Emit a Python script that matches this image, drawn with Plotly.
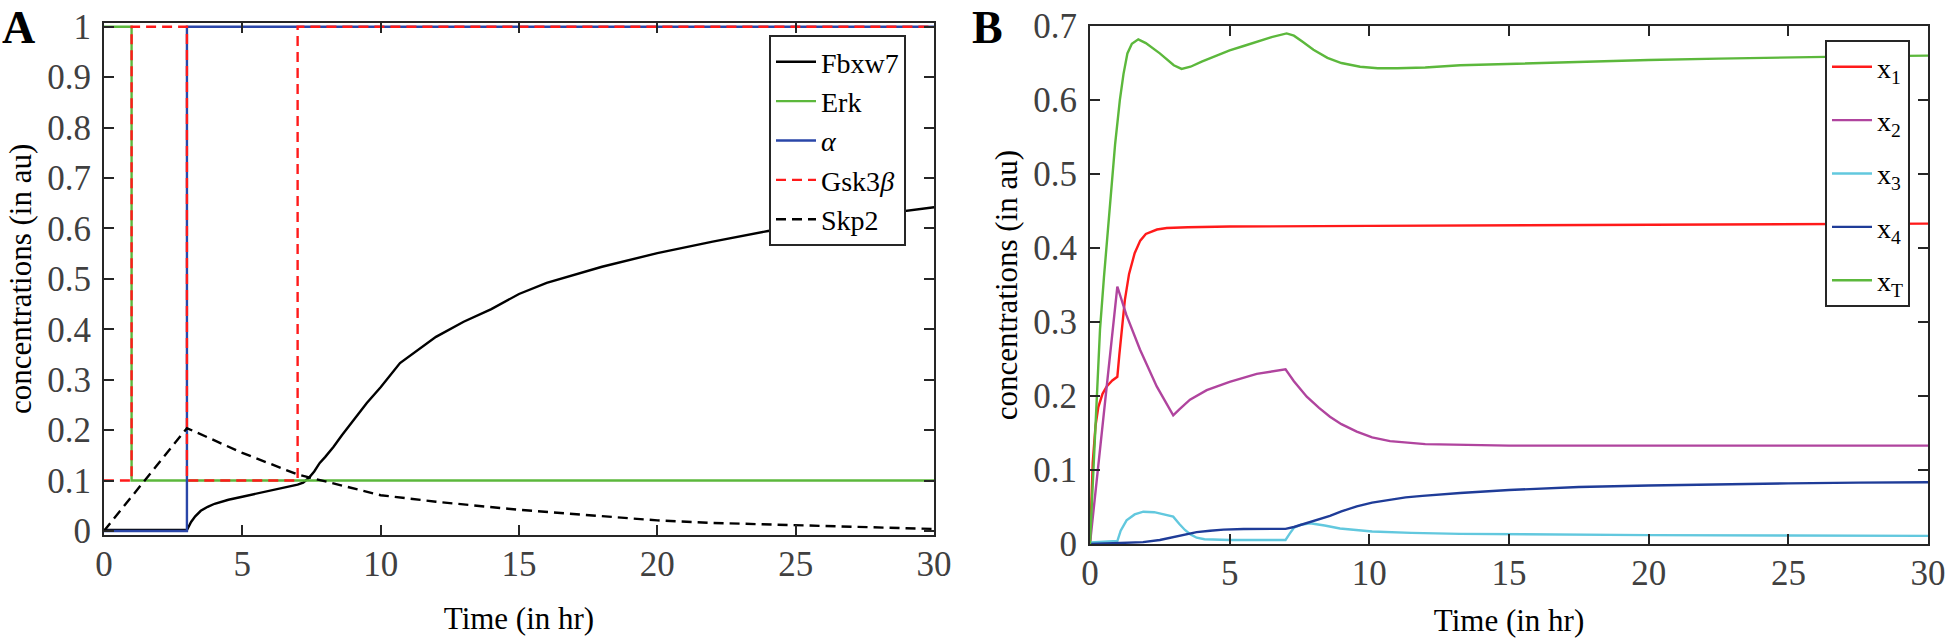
import plotly.graph_objects as go

# ---- panel A data ----
fbxw7_t = [0, 3, 3.15, 3.3, 3.5, 3.75, 4, 4.5, 5, 5.5, 6, 6.5, 7, 7.2, 7.4, 7.6, 7.8, 8.0,
           8.3, 8.6, 8.9, 9.5, 10, 10.7, 12, 13, 14, 15, 16, 18, 20, 22, 24, 26, 28, 30]
fbxw7_y = [0.002, 0.002, 0.018, 0.029, 0.04, 0.048, 0.054, 0.062, 0.068, 0.074, 0.079, 0.085,
           0.092, 0.096, 0.105, 0.118, 0.135, 0.147, 0.167, 0.19, 0.212, 0.254, 0.285, 0.333,
           0.385, 0.415, 0.44, 0.47, 0.492, 0.524, 0.551, 0.574, 0.595, 0.612, 0.628, 0.642]

erk_t = [0, 1, 1, 30]
erk_y = [1, 1, 0.1, 0.1]

alpha_t = [0, 3, 3, 30]
alpha_y = [0, 0, 1, 1]

gsk_t = [0, 1, 1, 3, 3, 7, 7, 30]
gsk_y = [0.1, 0.1, 1, 1, 0.1, 0.1, 1, 1]

skp2_t = [0, 3, 5, 7, 10, 12, 15, 18, 20, 22, 25, 28, 30]
skp2_y = [0, 0.204, 0.155, 0.112, 0.071, 0.058, 0.042, 0.029, 0.021, 0.016, 0.011, 0.006, 0.004]

# ---- panel B data ----
x1_t = [0, 0.05, 0.1, 0.2, 0.3, 0.45, 0.6, 0.8, 0.98, 1.05, 1.12, 1.25, 1.4, 1.6, 1.8, 2.0,
        2.4, 2.75, 3.5, 5, 10, 15, 20, 25, 30]
x1_y = [0, 0.06, 0.11, 0.16, 0.185, 0.203, 0.213, 0.221, 0.226, 0.255, 0.285, 0.33, 0.365,
        0.393, 0.41, 0.419, 0.425, 0.427, 0.428, 0.429, 0.43, 0.431, 0.432, 0.433, 0.433]

x2_t = [0, 0.98, 1.3, 1.79, 2.39, 2.98, 3.2, 3.58, 4.18, 5, 5.97, 7.0, 7.3, 7.76, 8.2, 8.59,
        9.0, 9.55, 10.1, 10.74, 12, 13.25, 15, 20, 25, 30]
x2_y = [0, 0.348, 0.31, 0.263, 0.213, 0.174, 0.182, 0.195, 0.208, 0.219, 0.23, 0.236, 0.22,
        0.199, 0.184, 0.172, 0.162, 0.152, 0.144, 0.139, 0.135, 0.134, 0.133, 0.133, 0.133, 0.133]

x3_t = [0, 0.98, 1.1, 1.31, 1.6, 1.91, 2.3, 2.7, 2.98, 3.2, 3.4, 3.6, 3.82, 4.1, 4.4, 5, 6,
        7.0, 7.15, 7.3, 7.55, 7.88, 8.4, 8.95, 10.1, 11.5, 13.25, 15, 20, 25, 30]
x3_y = [0.002, 0.004, 0.018, 0.032, 0.04, 0.0437, 0.043, 0.04, 0.037, 0.027, 0.019, 0.013,
        0.0085, 0.0065, 0.006, 0.0055, 0.0055, 0.0055, 0.014, 0.022, 0.026, 0.028, 0.025,
        0.021, 0.017, 0.015, 0.0137, 0.013, 0.012, 0.0115, 0.011]

x4_t = [0, 0.8, 1.4, 1.9, 2.5, 2.98, 3.4, 3.82, 4.3, 4.78, 5.5, 6.2, 7.0, 7.3, 7.76, 8.2,
        8.59, 9.0, 9.55, 10.1, 10.74, 11.3, 11.9, 12.5, 13.25, 15, 17.5, 20, 22.5, 25, 27.5, 30]
x4_y = [0, 0.001, 0.0015, 0.0025, 0.0055, 0.0095, 0.013, 0.016, 0.018, 0.0195, 0.0203, 0.0205,
        0.0205, 0.023, 0.028, 0.033, 0.038, 0.044, 0.051, 0.056, 0.06, 0.063, 0.065, 0.067,
        0.069, 0.073, 0.077, 0.079, 0.081, 0.082, 0.083, 0.0835]

xT_t = [0, 0.1, 0.2, 0.36, 0.5, 0.72, 0.9, 1.07, 1.2, 1.34, 1.5, 1.73, 2.0, 2.5, 3.0, 3.28,
        3.6, 4.0, 4.5, 5.0, 5.5, 6.0, 6.5, 7.04, 7.3, 7.6, 8.0, 8.5, 9.0, 9.67, 10.3, 11.0, 12,
        13.25, 15, 17.5, 20, 22.5, 25, 27.5, 30]
xT_y = [0, 0.08, 0.16, 0.29, 0.36, 0.465, 0.54, 0.6, 0.635, 0.663, 0.676, 0.682, 0.677, 0.663,
        0.647, 0.642, 0.645, 0.652, 0.66, 0.667, 0.673, 0.679, 0.685, 0.69, 0.687, 0.679, 0.668,
        0.657, 0.65, 0.645, 0.643, 0.643, 0.644, 0.647, 0.649, 0.652, 0.654, 0.656, 0.658,
        0.659, 0.66]

x_ticks = [0, 5, 10, 15, 20, 25, 30]

FONT = "Liberation Serif"
AXCOL = "#262626"
GREEN = "#5cb83c"
RED = "#ff1a1a"
DASH = "10px,6px"

fig = go.Figure()

def add(x, y, name, color, dash="solid", ax="A"):
    fig.add_trace(go.Scatter(
        x=x, y=y, name=name, mode="lines",
        line=dict(color=color, width=2.4, dash=dash),
        xaxis="x" if ax == "A" else "x2",
        yaxis="y" if ax == "A" else "y2",
        legend="legend" if ax == "A" else "legend2",
        legendgroup=name,
    ))

add(fbxw7_t, fbxw7_y, "Fbxw7", "black")
add(erk_t, erk_y, "Erk", GREEN)
add(alpha_t, alpha_y, "<i>α</i>", "#2a46a8")
add(gsk_t, gsk_y, "Gsk3<i>β</i>", RED, dash=DASH)
add(skp2_t, skp2_y, "Skp2", "black", dash=DASH)

add(x1_t, x1_y, "x<sub>1</sub>", RED, ax="B")
add(x2_t, x2_y, "x<sub>2</sub>", "#b0449e", ax="B")
add(x3_t, x3_y, "x<sub>3</sub>", "#62c8de", ax="B")
add(x4_t, x4_y, "x<sub>4</sub>", "#1f3c98", ax="B")
add(xT_t, xT_y, "x<sub>T</sub>", GREEN, ax="B")

axis_common = dict(
    showline=True, linecolor=AXCOL, linewidth=2, mirror="ticks",
    ticks="inside", ticklen=10, tickwidth=2, tickcolor=AXCOL,
    showgrid=False, zeroline=False, automargin=False,
    tickfont=dict(family=FONT, size=35, color="#404040"),
)
title_font = dict(family=FONT, size=31, color="black")
xt = dict(text="Time (in hr)", font=title_font, standoff=24)
yt = dict(text="concentrations (in au)", font=title_font, standoff=6)

fig.update_layout(
    template="none",
    width=1946, height=638,
    margin=dict(l=0, r=0, t=0, b=0),
    paper_bgcolor="white", plot_bgcolor="white",
    font=dict(family=FONT, color="black"),
    showlegend=True,
    xaxis=dict(axis_common, domain=[0.0534, 0.4800], range=[0, 30], tickvals=x_ticks,
               anchor="y", ticklabelstandoff=-3, title=xt),
    yaxis=dict(axis_common, domain=[0.1614, 0.9644], range=[-0.008, 1.008], dtick=0.1,
               anchor="x", ticklabelstandoff=4, title=yt),
    xaxis2=dict(axis_common, domain=[0.5601, 0.9908], range=[0, 30], tickvals=x_ticks,
                anchor="y2", ticklabelstandoff=-3, title=xt),
    yaxis2=dict(axis_common, domain=[0.1473, 0.9592], range=[0, 0.7], dtick=0.1,
                anchor="x2", ticklabelstandoff=4, title=yt),
    legend=dict(x=769 / 1946, y=1 - 35 / 638, xanchor="left", yanchor="top",
                bgcolor="white", bordercolor=AXCOL, borderwidth=2,
                font=dict(family=FONT, size=28, color="black"),
                tracegroupgap=0, itemwidth=40),
    legend2=dict(x=1825 / 1946, y=1 - 40 / 638, xanchor="left", yanchor="top",
                 bgcolor="white", bordercolor=AXCOL, borderwidth=2,
                 font=dict(family=FONT, size=28, color="black"),
                 tracegroupgap=14, itemwidth=40),
    annotations=[
        dict(text="<b>A</b>", x=0.0, y=1.0, xref="paper", yref="paper",
             xanchor="left", yanchor="top", showarrow=False,
             font=dict(family=FONT, size=46, color="black")),
        dict(text="<b>B</b>", x=970 / 1946, y=1.0, xref="paper", yref="paper",
             xanchor="left", yanchor="top", showarrow=False,
             font=dict(family=FONT, size=46, color="black")),
    ],
)

# page body has an 8px default margin; drop it so the figure sits at the window origin
fig.write_html("out.html", config={"displayModeBar": False},
               post_script="document.body.style.margin='0';")
